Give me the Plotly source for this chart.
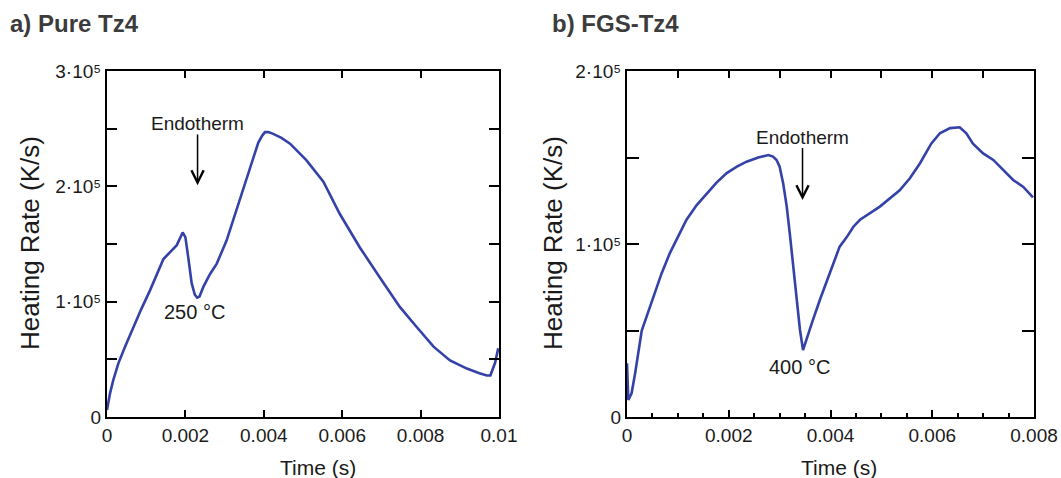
import plotly.graph_objects as go

# ---------------- data ----------------
pure_t = [0.0, 0.000077, 0.00016, 0.00029, 0.00046, 0.00067, 0.00088, 0.0011, 0.00127, 0.00144,
          0.00161, 0.00178, 0.00193, 0.0020, 0.00207, 0.00216, 0.00224, 0.0023, 0.00236, 0.00246,
          0.00263, 0.0028, 0.00305, 0.00322, 0.00339, 0.00356, 0.00373, 0.00386, 0.00396, 0.00403,
          0.00412, 0.00424, 0.00445, 0.00467, 0.00509, 0.00552, 0.00594, 0.00645, 0.00696, 0.00747,
          0.0079, 0.00833, 0.00875, 0.00918, 0.0095, 0.00969, 0.00978, 0.00983, 0.0099, 0.00998]
pure_rate = [0.06e5, 0.205e5, 0.32e5, 0.465e5, 0.61e5, 0.78e5, 0.94e5, 1.10e5, 1.24e5, 1.37e5,
             1.43e5, 1.49e5, 1.60e5, 1.56e5, 1.39e5, 1.16e5, 1.06e5, 1.035e5, 1.045e5, 1.13e5,
             1.24e5, 1.33e5, 1.53e5, 1.71e5, 1.88e5, 2.08e5, 2.25e5, 2.38e5, 2.44e5, 2.47e5,
             2.47e5, 2.455e5, 2.42e5, 2.37e5, 2.225e5, 2.04e5, 1.76e5, 1.47e5, 1.21e5, 0.955e5,
             0.78e5, 0.61e5, 0.49e5, 0.42e5, 0.38e5, 0.36e5, 0.36e5, 0.40e5, 0.47e5, 0.595e5]

fgs_t = [0.0, 0.000013, 0.000026, 0.00009, 0.00016, 0.00029, 0.00052, 0.00068, 0.00084, 0.00101,
         0.00117, 0.00137, 0.00157, 0.00176, 0.00196, 0.00216, 0.00235, 0.00258, 0.00278, 0.00287,
         0.00294, 0.0030, 0.00307, 0.00314, 0.0032, 0.00327, 0.00333, 0.0034, 0.00346, 0.00353,
         0.00363, 0.00379, 0.00399, 0.00418, 0.00432, 0.00445, 0.00458, 0.00497, 0.00536, 0.00556,
         0.00576, 0.00598, 0.00615, 0.00635, 0.00654, 0.00667, 0.0068, 0.007, 0.0072, 0.00739,
         0.00759, 0.00779, 0.00798]
fgs_rate = [0.31e5, 0.175e5, 0.098e5, 0.137e5, 0.253e5, 0.50e5, 0.695e5, 0.83e5, 0.946e5, 1.05e5,
            1.14e5, 1.225e5, 1.29e5, 1.355e5, 1.41e5, 1.447e5, 1.476e5, 1.50e5, 1.514e5, 1.505e5,
            1.486e5, 1.447e5, 1.35e5, 1.216e5, 1.06e5, 0.87e5, 0.676e5, 0.503e5, 0.387e5, 0.445e5,
            0.54e5, 0.676e5, 0.83e5, 0.985e5, 1.04e5, 1.10e5, 1.14e5, 1.216e5, 1.31e5, 1.38e5,
            1.467e5, 1.58e5, 1.64e5, 1.67e5, 1.675e5, 1.64e5, 1.58e5, 1.524e5, 1.486e5, 1.43e5,
            1.37e5, 1.33e5, 1.27e5]

pure_xticks = [0, 0.002, 0.004, 0.006, 0.008, 0.01]
pure_xlabels = ["0", "0.002", "0.004", "0.006", "0.008", "0.01"]
pure_yticks = [0, 1e5, 2e5, 3e5]
pure_ylabels = ["0", "1·10⁵", "2·10⁵", "3·10⁵"]

fgs_xticks = [0, 0.002, 0.004, 0.006, 0.008]
fgs_xlabels = ["0", "0.002", "0.004", "0.006", "0.008"]
fgs_yticks = [0, 1e5, 2e5]
fgs_ylabels = ["0", "1·10⁵", "2·10⁵"]

# ---------------- style ----------------
W, H = 1061, 478
FONT = "Liberation Sans, Arial, sans-serif"
LINE = "#3442a8"
TXT = "#1a1a1a"

def px(x):
    return x / W

def py(y):
    return 1 - y / H

dom_l = [px(107), px(499)]
dom_r = [px(627), px(1034)]
dom_y = [py(417), py(71)]

fig = go.Figure()
fig.add_trace(go.Scatter(x=pure_t, y=pure_rate, mode="lines",
                         line=dict(color=LINE, width=2.6), xaxis="x", yaxis="y",
                         showlegend=False, hoverinfo="skip"))
fig.add_trace(go.Scatter(x=fgs_t, y=fgs_rate, mode="lines",
                         line=dict(color=LINE, width=2.6), xaxis="x2", yaxis="y2",
                         showlegend=False, hoverinfo="skip"))
# empty trace so the top tick axis of panel b exists
fig.add_trace(go.Scatter(x=[], y=[], xaxis="x3", yaxis="y2", showlegend=False, hoverinfo="skip"))

tickfont = dict(family=FONT, size=19, color=TXT)
common = dict(showline=True, linecolor="black", linewidth=2, ticks="inside",
              tickcolor="black", tickwidth=2, showgrid=False, zeroline=False,
              automargin=False, tickfont=tickfont, fixedrange=True)

fig.update_layout(
    width=W, height=H,
    margin=dict(l=0, r=0, t=0, b=0),
    paper_bgcolor="white", plot_bgcolor="white",
    xaxis=dict(domain=dom_l, range=[0, 0.01], tickvals=pure_xticks, ticktext=pure_xlabels,
               ticklen=7, mirror="ticks", anchor="y", **common),
    yaxis=dict(domain=dom_y, range=[0, 3e5], tickvals=pure_yticks, ticktext=pure_ylabels,
               ticklen=10, mirror="ticks", anchor="x",
               minor=dict(dtick=0.5e5, tick0=0, ticklen=10, ticks="inside",
                          tickcolor="black", tickwidth=2), **common),
    xaxis2=dict(domain=dom_r, range=[0, 0.008], tickvals=fgs_xticks, ticktext=fgs_xlabels,
                ticklen=7, mirror=True, anchor="y2",
                minor=dict(dtick=0.0005, tick0=0, ticklen=4, ticks="inside",
                           tickcolor="black", tickwidth=1.5), **common),
    xaxis3=dict(domain=dom_r, range=[0, 0.008], overlaying="x2", side="top", anchor="y2",
                showline=False, ticks="inside", dtick=0.001, tick0=0, ticklen=7,
                tickcolor="black", tickwidth=1.5, showticklabels=False, showgrid=False,
                zeroline=False, automargin=False, fixedrange=True),
    yaxis2=dict(domain=dom_y, range=[0, 2e5], tickvals=fgs_yticks, ticktext=fgs_ylabels,
                ticklen=12, mirror="ticks", anchor="x2",
                minor=dict(dtick=0.5e5, tick0=0, ticklen=12, ticks="inside",
                           tickcolor="black", tickwidth=2), **common),
)

ann = []
# panel titles
ann.append(dict(text="<b>a) Pure Tz4</b>", xref="paper", yref="paper", x=px(8), y=py(23),
                xanchor="left", yanchor="middle", showarrow=False,
                font=dict(family=FONT, size=24, color="#3c3c3c")))
ann.append(dict(text="<b>b) FGS-Tz4</b>", xref="paper", yref="paper", x=px(550), y=py(23),
                xanchor="left", yanchor="middle", showarrow=False,
                font=dict(family=FONT, size=24, color="#3c3c3c")))
# axis titles
for xc in (30, 553):
    ann.append(dict(text="Heating Rate (K/s)", xref="paper", yref="paper", x=px(xc), y=py(243),
                    xanchor="center", yanchor="middle", textangle=-90, showarrow=False,
                    font=dict(family=FONT, size=26, color=TXT)))
for xc in (318, 839):
    ann.append(dict(text="Time (s)", xref="paper", yref="paper", x=px(xc), y=py(467),
                    xanchor="center", yanchor="middle", showarrow=False,
                    font=dict(family=FONT, size=21, color=TXT)))
# panel a annotations: text at the arrow tail, arrow head pointing down
ann.append(dict(text="Endotherm", xref="x", yref="y", x=0.00231, y=2.01e5,
                ax=0.00231, ay=2.545e5, axref="x", ayref="y", showarrow=True,
                arrowhead=5, arrowsize=1.6, arrowwidth=1.5, arrowcolor="black",
                borderpad=0, standoff=0, startstandoff=0,
                font=dict(family=FONT, size=19, color=TXT)))
ann.append(dict(text="250 °C", xref="x", yref="y", x=0.00224, y=0.909e5, showarrow=False,
                xanchor="center", yanchor="middle", font=dict(family=FONT, size=20, color=TXT)))
# panel b annotations
ann.append(dict(text="Endotherm", xref="x2", yref="y2", x=0.00345, y=1.254e5,
                ax=0.00345, ay=1.618e5, axref="x2", ayref="y2", showarrow=True,
                arrowhead=5, arrowsize=1.6, arrowwidth=1.5, arrowcolor="black",
                borderpad=0, standoff=0, startstandoff=0,
                font=dict(family=FONT, size=19, color=TXT)))
ann.append(dict(text="400 °C", xref="x2", yref="y2", x=0.0034, y=0.289e5, showarrow=False,
                xanchor="center", yanchor="middle", font=dict(family=FONT, size=20, color=TXT)))

fig.update_layout(annotations=ann)
fig.write_html("out.html")
